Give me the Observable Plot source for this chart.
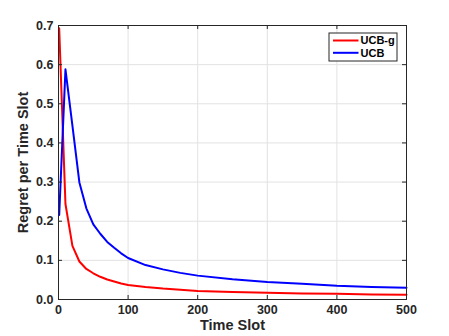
<!DOCTYPE html>
<html>
<head>
<meta charset="utf-8">
<script src="https://cdn.jsdelivr.net/npm/d3@7"></script>
<script src="https://cdn.jsdelivr.net/npm/@observablehq/plot@0.6"></script>
<style>
  html, body { margin: 0; padding: 0; background: #ffffff; }
  #chart svg { display: block; }
</style>
</head>
<body>
<div id="chart"></div>
<script>
const timeSlots = [1, 10, 20, 30, 40, 50, 60, 70, 80, 90, 100, 125, 150, 175, 200, 250, 300, 350, 400, 450, 500];
const ucbgValues = [0.693, 0.244, 0.137, 0.097, 0.078, 0.067, 0.058, 0.051, 0.046, 0.041, 0.037, 0.032, 0.028, 0.025, 0.022, 0.019, 0.017, 0.0155, 0.0145, 0.013, 0.012];
const ucbValues = [0.216, 0.588, 0.444, 0.299, 0.233, 0.192, 0.168, 0.147, 0.132, 0.118, 0.106, 0.088, 0.077, 0.068, 0.061, 0.052, 0.045, 0.040, 0.035, 0.032, 0.030];
const seriesNames = ["UCB-g", "UCB"];
const seriesColors = ["#ff0000", "#0000ff"];
const xTicks = [0, 100, 200, 300, 400, 500];
const yTicks = [0, 0.1, 0.2, 0.3, 0.4, 0.5, 0.6, 0.7];
const xLabel = "Time Slot";
const yLabel = "Regret per Time Slot";

(function () {
const W = 449, H = 336;
const mL = 58, mR = 43, mT = 25, mB = 37;
const fw = W - mL - mR, fh = H - mT - mB;
const tickLen = 4;
const font = "'Liberation Sans', Arial, Helvetica, sans-serif";
const ink = "#262626";

const rows = (vals, name) => timeSlots.map((t, i) => ({t, v: vals[i], name}));
const dataG = rows(ucbgValues, seriesNames[0]);
const dataU = rows(ucbValues, seriesNames[1]);

const chart = Plot.plot({
  width: W, height: H,
  marginLeft: mL, marginRight: mR, marginTop: mT, marginBottom: mB,
  style: {fontFamily: font, background: "#ffffff", color: ink},
  x: {domain: [0, 500]},
  y: {domain: [0, 0.7]},
  marks: [
    Plot.gridX(xTicks, {stroke: "#e2e2e2", strokeOpacity: 1}),
    Plot.gridY(yTicks, {stroke: "#e2e2e2", strokeOpacity: 1}),
    Plot.line(dataG, {x: "t", y: "v", stroke: seriesColors[0], strokeWidth: 2}),
    Plot.line(dataU, {x: "t", y: "v", stroke: seriesColors[1], strokeWidth: 2}),
    Plot.tickX(xTicks, {x: d => d, insetTop: fh - tickLen, stroke: ink}),
    Plot.tickX(xTicks, {x: d => d, insetBottom: fh - tickLen, stroke: ink}),
    Plot.tickY(yTicks, {y: d => d, insetRight: fw - tickLen, stroke: ink}),
    Plot.tickY(yTicks, {y: d => d, insetLeft: fw - tickLen, stroke: ink}),
    Plot.frame({stroke: ink, strokeWidth: 1}),
    Plot.axisX(xTicks, {tickSize: 0, tickPadding: 6, fontSize: 12.5, fontWeight: "bold", fill: ink, label: null}),
    Plot.axisY(yTicks, {tickSize: 0, tickPadding: 5, fontSize: 12.5, fontWeight: "bold", fill: ink, label: null}),
    Plot.text([xLabel], {frameAnchor: "bottom", lineAnchor: "middle", textAnchor: "middle", dy: 26, text: d => d, fontSize: 14.5, fontWeight: "bold", fill: ink}),
    Plot.text([yLabel], {frameAnchor: "left", lineAnchor: "middle", textAnchor: "middle", dx: -35, rotate: -90, text: d => d, fontSize: 14.5, fontWeight: "bold", fill: ink})
  ]
});
document.getElementById("chart").appendChild(chart);

// Legend (top-right inside the frame)
const xs = chart.scale("x"), ys = chart.scale("y");
const frameRight = xs.apply(500), frameTop = ys.apply(0.7);
const bw = 68, bh = 28;
const bx = frameRight - 9 - bw, by = frameTop + 8;
const svg = d3.select(chart);
const g = svg.append("g").attr("font-family", font).attr("text-anchor", "start");
g.append("rect").attr("x", bx).attr("y", by).attr("width", bw).attr("height", bh)
  .attr("fill", "#ffffff").attr("stroke", ink).attr("stroke-width", 1);
seriesNames.forEach((name, i) => {
  const yy = by + 7.5 + i * 12.3;
  g.append("line").attr("x1", bx + 4).attr("x2", bx + 29.5).attr("y1", yy).attr("y2", yy)
    .attr("stroke", seriesColors[i]).attr("stroke-width", 2);
  g.append("text").attr("x", bx + 31.5).attr("y", yy).attr("dy", "0.35em")
    .attr("text-anchor", "start")
    .attr("font-size", 11).attr("font-weight", "bold").attr("fill", "#000").text(name);
});
})();
</script>
</body>
</html>
